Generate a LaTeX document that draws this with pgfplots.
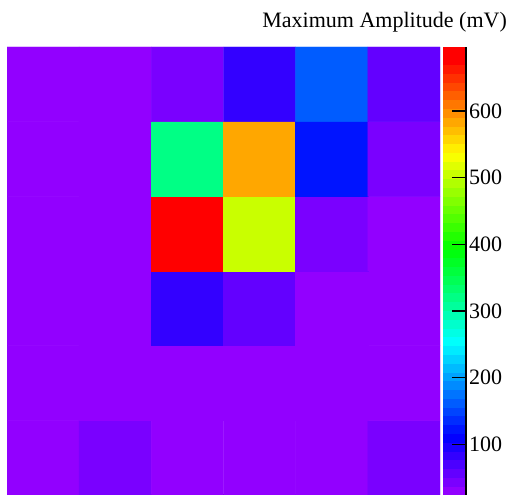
\documentclass[border=0pt]{standalone}
\usepackage{fontspec}
\setmainfont{Liberation Serif}
\usepackage{pgfplots}
\pgfplotsset{compat=1.18}
\pgfplotsset{colormap={rootpretty}{
rgb255=(146,0,255) rgb255=(122,0,255) rgb255=(99,0,255) rgb255=(75,0,255) rgb255=(51,0,255)
rgb255=(27,0,255) rgb255=(3,0,255) rgb255=(0,20,255) rgb255=(0,44,255) rgb255=(0,68,255)
rgb255=(0,92,255) rgb255=(0,116,255) rgb255=(0,139,255) rgb255=(0,163,255) rgb255=(0,187,255)
rgb255=(0,211,255) rgb255=(0,235,255) rgb255=(0,255,252) rgb255=(0,255,228) rgb255=(0,255,204)
rgb255=(0,255,180) rgb255=(0,255,156) rgb255=(0,255,133) rgb255=(0,255,109) rgb255=(0,255,85)
rgb255=(0,255,61) rgb255=(0,255,37) rgb255=(0,255,14) rgb255=(10,255,0) rgb255=(34,255,0)
rgb255=(58,255,0) rgb255=(82,255,0) rgb255=(105,255,0) rgb255=(129,255,0) rgb255=(153,255,0)
rgb255=(177,255,0) rgb255=(201,255,0) rgb255=(224,255,0) rgb255=(248,255,0) rgb255=(255,238,0)
rgb255=(255,214,0) rgb255=(255,190,0) rgb255=(255,167,0) rgb255=(255,143,0) rgb255=(255,119,0)
rgb255=(255,95,0) rgb255=(255,71,0) rgb255=(255,48,0) rgb255=(255,24,0) rgb255=(255,0,0)
rgb255=(255,0,0)}}
\begin{document}
\begin{tikzpicture}
\path[use as bounding box] (0pt,0pt) rectangle (509pt,497pt);
\begin{axis}[
  at={(7pt,2pt)}, anchor=south west,
  scale only axis, width=433pt, height=448pt,
  xmin=-0.5, xmax=5.5, ymin=-0.5, ymax=5.5,
  xtick=\empty, ytick=\empty,
  axis x line*=bottom, axis y line*=left,
  axis line style={line width=1pt, black},
  colormap name=rootpretty,
  colormap access=piecewise constant,
  point meta min=24, point meta max=696,
  colorbar,
  colorbar shift/.style={xshift=3pt},
  colorbar style={
    at={(parent axis.north east)}, anchor=north west,
    width=23pt,
    axis on top,
    ytick={100,200,300,400,500,600},
    axis x line=none, axis y line=none,
    after end axis/.code={
      \draw[black, line width=1.2pt] (rel axis cs:1,0) -- (rel axis cs:1,1);
      \foreach \v in {100,200,300,400,500,600}{
        \draw[black, line width=1.2pt] (axis cs:1,\v) -- (axis cs:0.39,\v);
        \node[anchor=west, inner sep=0pt, font=\fontsize{22}{26}\selectfont] at ([xshift=3pt]axis cs:1,\v) {\v};
      }
    },
  },
]
\addplot[matrix plot*, mesh/cols=6, point meta=explicit] table[meta=c] {
x y c
0 0 24
1 0 42
2 0 31
3 0 33
4 0 35
5 0 45
0 1 25
1 1 28
2 1 30
3 1 32
4 1 29
5 1 27
0 2 26
1 2 30
2 2 84
3 2 57
4 2 34
5 2 31
0 3 29
1 3 33
2 3 696
3 3 501
4 3 46
5 3 32
0 4 27
1 4 31
2 4 326
3 4 582
4 4 125
5 4 44
0 5 30
1 5 28
2 5 44
3 5 85
4 5 165
5 5 58
};
\end{axis}
\node[anchor=base east, inner sep=0pt, font=\fontsize{22}{26}\selectfont] at (507pt,469pt) {Maximum Amplitude (mV)};
\end{tikzpicture}
\end{document}
